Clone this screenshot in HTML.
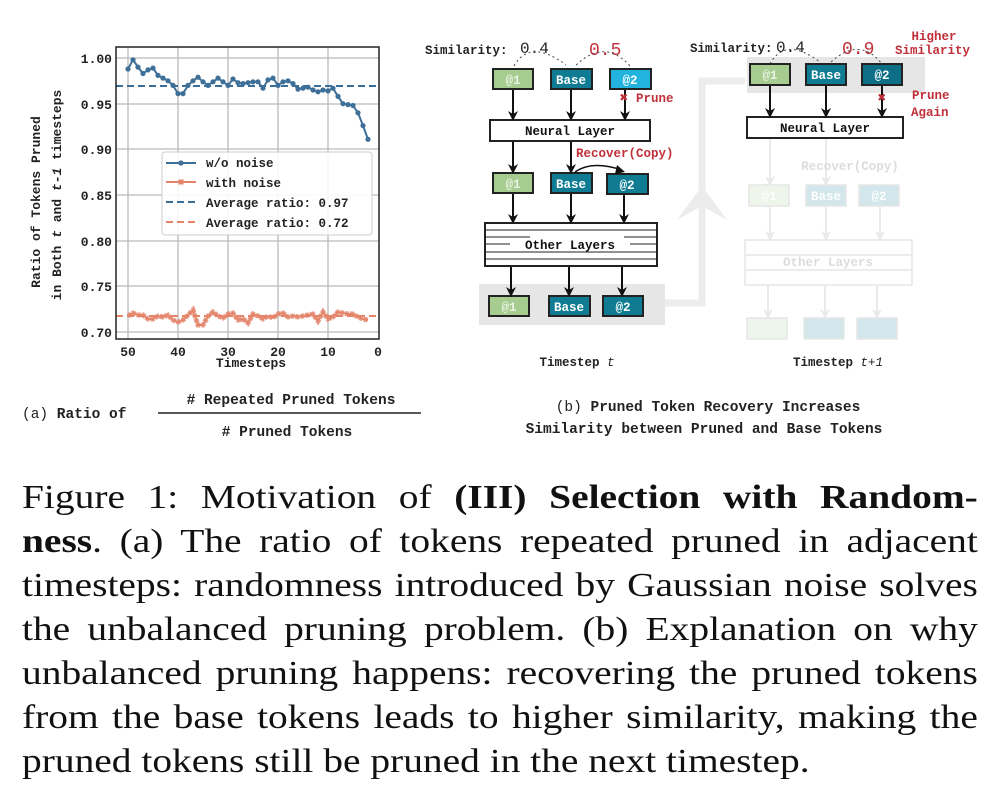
<!DOCTYPE html>
<html><head><meta charset="utf-8"><style>
body{margin:0;background:#fff;width:1001px;height:811px;overflow:hidden;position:relative}
.cap{position:absolute;left:22px;width:824px;font-family:"Liberation Serif",serif;font-size:34px;line-height:44px;color:#111;top:476px;transform:scaleX(1.16);transform-origin:0 0}
.cap div{text-align:justify;text-align-last:justify;white-space:nowrap}
.cap div.l{text-align-last:left}
</style></head><body>
<svg width="1001" height="460" style="position:absolute;left:0;top:0" font-family="Liberation Mono, monospace">
<defs>
<marker id="ah" markerWidth="10" markerHeight="10" refX="8" refY="5" orient="auto" markerUnits="userSpaceOnUse" viewBox="0 0 10 10"><path d="M0,0 L10,5 L0,10 L3,5 Z" fill="#111"/></marker>
<marker id="ahf" markerWidth="10" markerHeight="10" refX="8" refY="5" orient="auto" markerUnits="userSpaceOnUse" viewBox="0 0 10 10"><path d="M0,0 L10,5 L0,10 L3,5 Z" fill="#888"/></marker>
</defs>
<g stroke="#bbb" stroke-width="1.3">
<line x1="128" y1="47" x2="128" y2="339"/><line x1="178" y1="47" x2="178" y2="339"/><line x1="228" y1="47" x2="228" y2="339"/><line x1="278" y1="47" x2="278" y2="339"/><line x1="328" y1="47" x2="328" y2="339"/>
<line x1="116" y1="58" x2="379" y2="58"/><line x1="116" y1="104" x2="379" y2="104"/><line x1="116" y1="149" x2="379" y2="149"/><line x1="116" y1="195" x2="379" y2="195"/><line x1="116" y1="241" x2="379" y2="241"/><line x1="116" y1="286" x2="379" y2="286"/><line x1="116" y1="332" x2="379" y2="332"/>
</g>
<line x1="116" y1="86" x2="379" y2="86" stroke="#3a6e96" stroke-width="2" stroke-dasharray="7,4"/>
<line x1="116" y1="316" x2="379" y2="316" stroke="#e4856a" stroke-width="2" stroke-dasharray="7,4"/>
<polyline fill="none" stroke="#3e6f98" stroke-width="2" points="128,69 133,59.8 138,67.1 143,73.5 148,69.9 153,68.1 158,75.4 163,78.1 168,80.8 173,85.4 178,93.6 183,93.6 188,85.4 193,80.8 198,77.2 203,81.8 208,85.4 213,81.8 218,78.1 223,81.8 228,85.4 233,79 238,82.7 243,83.6 248,82.7 253,81.8 258,81.8 263,88.2 268,79.9 273,78.1 278,85.4 283,81.8 288,80.8 293,83.6 298,89.1 303,88.2 308,87.2 313,90 318,91.8 323,90 328,90.9 333,88.2 338,96.4 343,103.7 348,104.6 353,105.5 358,112.8 363,125.6 368,139.3"/>
<g fill="#3e6f98"><circle cx="128" cy="69" r="2.6"/><circle cx="133" cy="59.8" r="2.6"/><circle cx="138" cy="67.1" r="2.6"/><circle cx="143" cy="73.5" r="2.6"/><circle cx="148" cy="69.9" r="2.6"/><circle cx="153" cy="68.1" r="2.6"/><circle cx="158" cy="75.4" r="2.6"/><circle cx="163" cy="78.1" r="2.6"/><circle cx="168" cy="80.8" r="2.6"/><circle cx="173" cy="85.4" r="2.6"/><circle cx="178" cy="93.6" r="2.6"/><circle cx="183" cy="93.6" r="2.6"/><circle cx="188" cy="85.4" r="2.6"/><circle cx="193" cy="80.8" r="2.6"/><circle cx="198" cy="77.2" r="2.6"/><circle cx="203" cy="81.8" r="2.6"/><circle cx="208" cy="85.4" r="2.6"/><circle cx="213" cy="81.8" r="2.6"/><circle cx="218" cy="78.1" r="2.6"/><circle cx="223" cy="81.8" r="2.6"/><circle cx="228" cy="85.4" r="2.6"/><circle cx="233" cy="79" r="2.6"/><circle cx="238" cy="82.7" r="2.6"/><circle cx="243" cy="83.6" r="2.6"/><circle cx="248" cy="82.7" r="2.6"/><circle cx="253" cy="81.8" r="2.6"/><circle cx="258" cy="81.8" r="2.6"/><circle cx="263" cy="88.2" r="2.6"/><circle cx="268" cy="79.9" r="2.6"/><circle cx="273" cy="78.1" r="2.6"/><circle cx="278" cy="85.4" r="2.6"/><circle cx="283" cy="81.8" r="2.6"/><circle cx="288" cy="80.8" r="2.6"/><circle cx="293" cy="83.6" r="2.6"/><circle cx="298" cy="89.1" r="2.6"/><circle cx="303" cy="88.2" r="2.6"/><circle cx="308" cy="87.2" r="2.6"/><circle cx="313" cy="90" r="2.6"/><circle cx="318" cy="91.8" r="2.6"/><circle cx="323" cy="90" r="2.6"/><circle cx="328" cy="90.9" r="2.6"/><circle cx="333" cy="88.2" r="2.6"/><circle cx="338" cy="96.4" r="2.6"/><circle cx="343" cy="103.7" r="2.6"/><circle cx="348" cy="104.6" r="2.6"/><circle cx="353" cy="105.5" r="2.6"/><circle cx="358" cy="112.8" r="2.6"/><circle cx="363" cy="125.6" r="2.6"/><circle cx="368" cy="139.3" r="2.6"/></g>
<polyline fill="none" stroke="#e4856a" stroke-width="2" points="128,316 133,313 138,315 143,315 148,319 153,319 158,316 163,317 168,315 173,320 178,322 183,320 188,315 193,310 198,325 203,325 208,316 213,312 218,316 223,318 228,314 233,313 238,320 243,319 248,323 253,314 258,316 263,319 268,316 273,318 278,314 283,313 288,317 293,316 298,317 303,316 308,315 313,314 318,321 323,312 328,319 333,317 338,312 343,313 348,314 353,314 358,317 363,319 368,320"/>
<polyline fill="none" stroke="#e4856a" stroke-width="5" stroke-dasharray="4,1" points="128,316 133,313 138,315 143,315 148,319 153,319 158,316 163,317 168,315 173,320 178,322 183,320 188,315 193,310 198,325 203,325 208,316 213,312 218,316 223,318 228,314 233,313 238,320 243,319 248,323 253,314 258,316 263,319 268,316 273,318 278,314 283,313 288,317 293,316 298,317 303,316 308,315 313,314 318,321 323,312 328,319 333,317 338,312 343,313 348,314 353,314 358,317 363,319 368,320" opacity="0.8"/>
<rect x="116" y="47" width="263" height="292" fill="none" stroke="#222" stroke-width="1.5"/>
<rect x="162" y="152" width="210" height="83" rx="3" fill="#fff" fill-opacity="0.9" stroke="#ccc"/>
<line x1="166" y1="163" x2="196" y2="163" stroke="#3e6f98" stroke-width="2"/><circle cx="181" cy="163" r="2.6" fill="#3e6f98"/>
<line x1="166" y1="182" x2="196" y2="182" stroke="#e4856a" stroke-width="2"/><rect x="178.5" y="179.5" width="5" height="5" fill="#e4856a"/>
<line x1="166" y1="202" x2="196" y2="202" stroke="#3a6e96" stroke-width="2" stroke-dasharray="7,4"/>
<line x1="166" y1="222" x2="196" y2="222" stroke="#e4856a" stroke-width="2" stroke-dasharray="7,4"/>
<g font-size="12.5" font-weight="bold" fill="#222">
<text x="206" y="167">w/o noise</text><text x="206" y="187">with noise</text><text x="206" y="207">Average ratio: 0.97</text><text x="206" y="227">Average ratio: 0.72</text>
</g>
<g font-size="13" font-weight="bold" fill="#222" text-anchor="end">
<text x="112" y="63">1.00</text><text x="112" y="109">0.95</text><text x="112" y="154">0.90</text><text x="112" y="200">0.85</text><text x="112" y="246">0.80</text><text x="112" y="291">0.75</text><text x="112" y="337">0.70</text>
</g>
<g font-size="13" font-weight="bold" fill="#222" text-anchor="middle">
<text x="128" y="356">50</text><text x="178" y="356">40</text><text x="228" y="356">30</text><text x="278" y="356">20</text><text x="328" y="356">10</text><text x="378" y="356">0</text>
<text x="251" y="367">Timesteps</text>
</g>
<g font-size="13" font-weight="bold" fill="#222" text-anchor="middle">
<text transform="translate(40,202) rotate(-90)">Ratio of Tokens Pruned</text>
<text transform="translate(61,195) rotate(-90)">in Both <tspan font-style="italic">t</tspan> and <tspan font-style="italic">t-1</tspan> timesteps</text>
</g>
<g font-size="14.5" font-weight="bold" fill="#222">
<text x="22" y="418"><tspan font-weight="normal">(a)</tspan> Ratio of</text>
<text x="291" y="404" text-anchor="middle"># Repeated Pruned Tokens</text>
<text x="287" y="436" text-anchor="middle">#  Pruned Tokens</text>
</g>
<line x1="158" y1="413" x2="421" y2="413" stroke="#222" stroke-width="1.5"/>
<path d="M665,303 L702,303 L702,81 L745,81" fill="none" stroke="#ececec" stroke-width="7"/>
<path d="M702,186 L677,220 L702,206 L727,220 Z" fill="#ececec"/>
<rect x="479" y="284" width="186" height="41" fill="#e6e6e6"/>
<g font-size="12.5" font-weight="bold">
<text x="425" y="54" fill="#222">Similarity:</text>
<text x="520" y="53" fill="#222" font-size="16" font-weight="normal">0.4</text>
<text x="589" y="55" fill="#c0303a" font-size="18" font-weight="normal">0.5</text>
</g>
<path d="M514,66 Q530,38 566,65" fill="none" stroke="#444" stroke-dasharray="2,3"/>
<path d="M576,65 Q605,38 630,66" fill="none" stroke="#444" stroke-dasharray="2,3"/>
<g stroke="#222" stroke-width="2">
<rect x="493" y="69" width="40" height="20" fill="#a6cc8f"/><rect x="551" y="69" width="41" height="20" fill="#0f7c93"/><rect x="610" y="69" width="41" height="20" fill="#22b3df"/>
<rect x="490" y="120" width="160" height="21" fill="#fff"/>
<rect x="493" y="173" width="40" height="20" fill="#a6cc8f"/><rect x="551" y="173" width="41" height="20" fill="#0f7c93"/><rect x="607" y="174" width="41" height="20" fill="#0f7c93"/>
<rect x="485" y="223" width="172" height="43" fill="#fff"/>
<rect x="489" y="296" width="40" height="20" fill="#a6cc8f"/><rect x="549" y="296" width="41" height="20" fill="#0f7c93"/><rect x="603" y="296" width="40" height="20" fill="#0f7c93"/>
</g>
<g stroke="#222" stroke-width="1"><line x1="486" y1="230" x2="656" y2="230"/><line x1="486" y1="237" x2="530" y2="237"/><line x1="624" y1="237" x2="656" y2="237"/><line x1="486" y1="244" x2="510" y2="244"/><line x1="630" y1="244" x2="656" y2="244"/><line x1="486" y1="252" x2="656" y2="252"/><line x1="486" y1="259" x2="656" y2="259"/></g>
<g font-size="12.5" font-weight="bold" text-anchor="middle">
<text x="513" y="84" fill="#eaf3e4">@1</text><text x="571" y="84" fill="#fff">Base</text><text x="630" y="84" fill="#fff">@2</text>
<text x="570" y="135" fill="#111">Neural Layer</text>
<text x="513" y="188" fill="#eaf3e4">@1</text><text x="571" y="188" fill="#fff">Base</text><text x="627" y="189" fill="#fff">@2</text>
<text x="570" y="249" fill="#111">Other Layers</text>
<text x="509" y="311" fill="#eaf3e4">@1</text><text x="569" y="311" fill="#fff">Base</text><text x="623" y="311" fill="#fff">@2</text>
<text x="577" y="366" fill="#222">Timestep <tspan font-style="italic" font-weight="normal">t</tspan></text>
</g>
<g stroke="#111" stroke-width="2" marker-end="url(#ah)">
<line x1="513" y1="90" x2="513" y2="119"/><line x1="571" y1="90" x2="571" y2="119"/><line x1="625" y1="90" x2="625" y2="119"/>
<line x1="513" y1="142" x2="513" y2="172"/><line x1="571" y1="142" x2="571" y2="172"/>
<line x1="513" y1="194" x2="513" y2="222"/><line x1="571" y1="194" x2="571" y2="222"/><line x1="624" y1="195" x2="624" y2="222"/>
<line x1="511" y1="267" x2="511" y2="295"/><line x1="569" y1="267" x2="569" y2="295"/><line x1="622" y1="267" x2="622" y2="295"/>
</g>
<path d="M575,172 Q592,160 622,170" fill="none" stroke="#111" stroke-width="1.5"/>
<path d="M617,165 L625,172 L615,174 Z" fill="#111"/>
<text x="624" y="102" font-size="14" fill="#c0303a" text-anchor="middle" font-weight="bold">✖</text>
<g font-size="12.5" fill="#c0303a" font-weight="bold"><text x="636" y="102">Prune</text><text x="576" y="157">Recover(Copy)</text></g>
<rect x="747" y="57" width="178" height="36" fill="#e6e6e6"/>
<g font-size="12.5" font-weight="bold">
<text x="690" y="52" fill="#222">Similarity:</text>
<text x="776" y="52" fill="#222" font-size="16" font-weight="normal">0.4</text>
<text x="842" y="54" fill="#c0303a" font-size="18" font-weight="normal">0.9</text>
<text x="934" y="40" fill="#c0303a" text-anchor="middle">Higher</text>
<text x="895" y="54" fill="#c0303a">Similarity</text>
<text x="912" y="99" fill="#c0303a">Prune</text><text x="911" y="116" fill="#c0303a">Again</text>
</g>
<path d="M770,64 Q785,36 820,62" fill="none" stroke="#444" stroke-dasharray="2,3"/>
<path d="M831,62 Q860,36 882,64" fill="none" stroke="#444" stroke-dasharray="2,3"/>
<g stroke="#222" stroke-width="2">
<rect x="750" y="64" width="40" height="21" fill="#a6cc8f"/><rect x="806" y="64" width="40" height="21" fill="#0f7c93"/><rect x="862" y="64" width="40" height="21" fill="#0c6f86"/>
<rect x="747" y="117" width="156" height="21" fill="#fff"/>
</g>
<g font-size="12.5" font-weight="bold" text-anchor="middle">
<text x="770" y="79" fill="#eaf3e4">@1</text><text x="826" y="79" fill="#fff">Base</text><text x="882" y="79" fill="#fff">@2</text>
<text x="825" y="132" fill="#111">Neural Layer</text>
<text x="838" y="366" fill="#222">Timestep <tspan font-style="italic" font-weight="normal">t+1</tspan></text>
</g>
<g stroke="#111" stroke-width="2" marker-end="url(#ah)">
<line x1="770" y1="86" x2="770" y2="116"/><line x1="826" y1="86" x2="826" y2="116"/><line x1="882" y1="86" x2="882" y2="116"/>
</g>
<text x="882" y="102" font-size="14" fill="#c0303a" text-anchor="middle" font-weight="bold">✖</text>
<g opacity="0.18">
<g stroke="#777" stroke-width="1.5">
<rect x="749" y="185" width="40" height="21" fill="#a6cc8f"/><rect x="806" y="185" width="40" height="21" fill="#0f7c93"/><rect x="859" y="185" width="40" height="21" fill="#0f7c93"/>
<rect x="745" y="240" width="167" height="45" fill="#fff"/>
<rect x="747" y="318" width="40" height="21" fill="#a6cc8f"/><rect x="804" y="318" width="40" height="21" fill="#0f7c93"/><rect x="857" y="318" width="40" height="21" fill="#0f7c93"/>
<line x1="745" y1="255" x2="912" y2="255"/><line x1="745" y1="270" x2="912" y2="270"/>
</g>
<g stroke="#888" stroke-width="2" marker-end="url(#ahf)">
<line x1="770" y1="139" x2="770" y2="184"/><line x1="826" y1="139" x2="826" y2="184"/>
<line x1="770" y1="207" x2="770" y2="239"/><line x1="826" y1="207" x2="826" y2="239"/><line x1="880" y1="207" x2="880" y2="239"/>
<line x1="768" y1="286" x2="768" y2="317"/><line x1="825" y1="286" x2="825" y2="317"/><line x1="877" y1="286" x2="877" y2="317"/>
</g>
<g font-size="12.5" font-weight="bold" text-anchor="middle" fill="#444">
<text x="850" y="170">Recover(Copy)</text><text x="828" y="266">Other Layers</text>
<text x="769" y="200" fill="#fff">@1</text><text x="826" y="200" fill="#fff">Base</text><text x="879" y="200" fill="#fff">@2</text>
</g>
</g>
<g font-size="14.5" font-weight="bold" fill="#222" text-anchor="middle">
<text x="708" y="411"><tspan font-weight="normal">(b)</tspan> Pruned Token Recovery Increases</text>
<text x="704" y="433">Similarity between Pruned and Base Tokens</text>
</g>
</svg>
<div class="cap">
<div>Figure 1: Motivation of <b>(III) Selection with Random-</b></div>
<div><b>ness</b>. (a) The ratio of tokens repeated pruned in adjacent</div>
<div>timesteps: randomness introduced by Gaussian noise solves</div>
<div>the unbalanced pruning problem. (b) Explanation on why</div>
<div>unbalanced pruning happens: recovering the pruned tokens</div>
<div>from the base tokens leads to higher similarity, making the</div>
<div class="l">pruned tokens still be pruned in the next timestep.</div>
</div>
</body></html>
